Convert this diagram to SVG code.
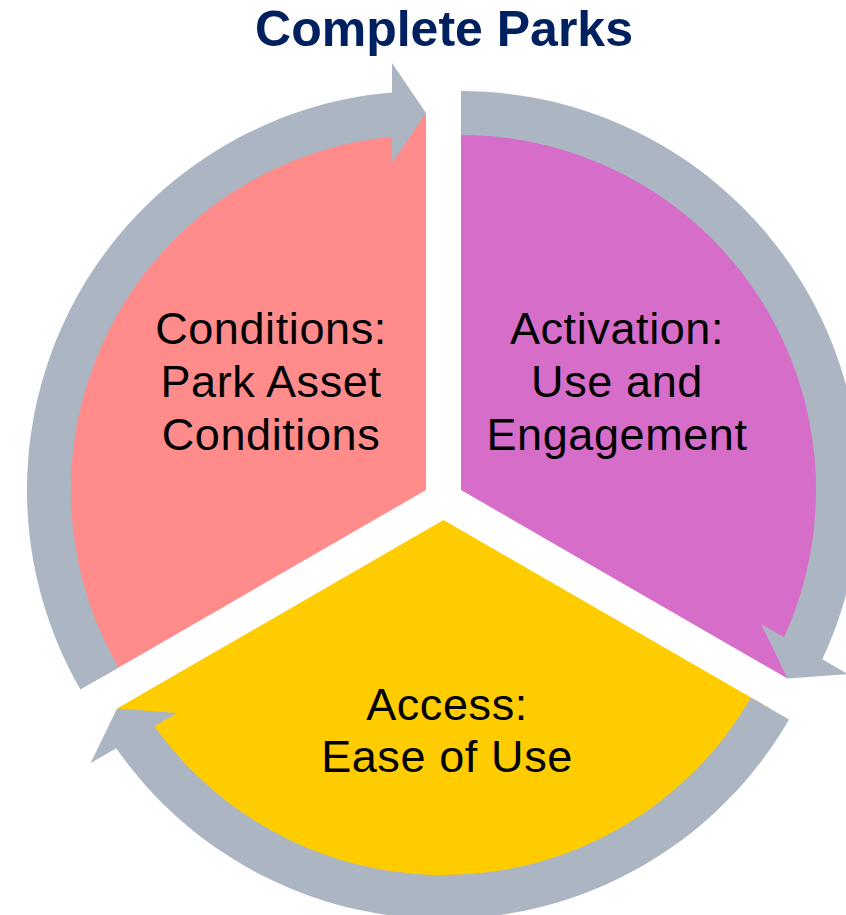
<svg xmlns="http://www.w3.org/2000/svg" width="846" height="915" viewBox="0 0 846 915">
<style>
.lbl{font-family:"Liberation Sans",Arial,sans-serif;font-size:45px;letter-spacing:0.6px;fill:#000;text-anchor:middle}
.title{font-family:"Liberation Sans",Arial,sans-serif;font-size:50px;font-weight:bold;fill:#002060;text-anchor:middle}
.arrow{fill:#ABB6C2}
</style>
<rect width="846" height="915" fill="#fff"/>
<text class="title" x="444" y="46">Complete Parks</text>
<g id="conditions">
<path d="M426,490 L99.5,678.5 A377,377 0 0 1 426,113 Z" fill="#FF8B8B"/>
<text class="lbl" x="271" y="344">Conditions:</text>
<text class="lbl" x="271" y="397">Park Asset</text>
<text class="lbl" x="271" y="450">Conditions</text>
</g>
<g id="activation">
<path d="M461,490 L461,113 A377,377 0 0 1 787.5,678.5 Z" fill="#D66DC9"/>
<text class="lbl" x="617" y="344">Activation:</text>
<text class="lbl" x="617" y="397">Use and</text>
<text class="lbl" x="617" y="450">Engagement</text>
</g>
<g id="access">
<path d="M443.5,520 L770,708.5 A377,377 0 0 1 117,708.5 Z" fill="#FFCC00"/>
<text class="lbl" x="447" y="720">Access:</text>
<text class="lbl" x="447" y="772">Ease of Use</text>
</g>
<g id="connectors">
<path class="arrow" d="M118.55,667.5 L80.45,689.5 A399,399 0 0 1 392,92.45 L392,63 L426,113 L392,163 L392,136.63 A355,355 0 0 0 118.55,667.5 Z"/>
<path class="arrow" d="M461,135 L461,91 A399,399 0 0 1 822.29,659.34 L847.79,674.06 L787.49,678.5 L761.19,624.06 L784.03,637.25 A355,355 0 0 0 461,135 Z"/>
<path class="arrow" d="M750.94,697.5 L789.05,719.5 A399,399 0 0 1 116.21,748.22 L90.71,762.94 L117.01,708.5 L177.31,712.94 L154.47,726.13 A355,355 0 0 0 750.94,697.5 Z"/>
</g>
</svg>
